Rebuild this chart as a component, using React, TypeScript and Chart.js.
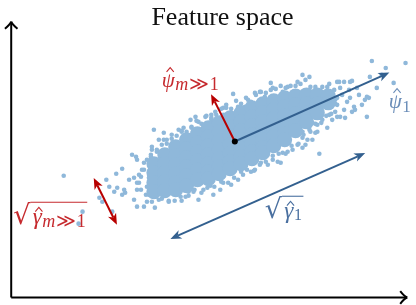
import React, { useEffect, useRef } from "react";
import { Chart, registerables } from "chart.js";

Chart.register(...registerables);

// ---- data (feature-space units) ----
const denseCore: [number, number][] = [
  [144, 134], [144, 125], [144, 115], [144, 106],
  [155, 143], [155, 134], [155, 125], [155, 116], [155, 107],
  [166, 151], [166, 142], [166, 133], [166, 124], [166, 115], [166, 108],
  [177, 158], [177, 149], [177, 140], [177, 131], [177, 122], [177, 112],
  [188, 164], [188, 155], [188, 146], [188, 137], [188, 128], [188, 118],
  [199, 170], [199, 161], [199, 152], [199, 143], [199, 134], [199, 126], [199, 119],
  [210, 175], [210, 166], [210, 157], [210, 148], [210, 139], [210, 131], [210, 124],
  [221, 180], [221, 171], [221, 162], [221, 153], [221, 144], [221, 136], [221, 129],
  [232, 185], [232, 176], [232, 167], [232, 158], [232, 149], [232, 141], [232, 134],
  [243, 190], [243, 181], [243, 172], [243, 163], [243, 154], [243, 146], [243, 139],
  [254, 194], [254, 185], [254, 176], [254, 167], [254, 158], [254, 150], [254, 145],
  [265, 197], [265, 188], [265, 179], [265, 170], [265, 161], [265, 152],
  [276, 200], [276, 191], [276, 182], [276, 173], [276, 164], [276, 158],
  [287, 202], [287, 193], [287, 184], [287, 175], [287, 167],
  [298, 203], [298, 194], [298, 185], [298, 176],
  [309, 203], [309, 194], [309, 185],
  [320, 202], [320, 195],
];

const scatterPoints: [number, number][] = [
  [53, 122], [72, 86], [68, 74], [89, 100], [92, 96], [96, 118], [102, 86],
  [106, 124], [107, 110], [112, 129], [115, 105], [99, 111], [104, 106], [112, 103],
  [114, 108], [122, 143], [126, 141], [124, 120], [119, 118], [127, 138], [134, 135],
  [141, 143], [142, 148], [144, 168], [154, 158], [127, 91], [124, 98], [134, 91],
  [142, 96], [146, 101], [159, 96], [171, 101], [176, 101], [184, 106], [186, 118],
  [129, 115], [131, 121], [139, 120], [137, 111], [144, 110], [151, 106], [154, 103],
  [161, 118], [156, 115], [166, 113], [162, 106], [189, 98], [204, 103], [222, 113],
  [229, 118], [246, 128], [242, 126], [259, 133], [269, 136], [272, 135], [274, 145],
  [279, 146], [294, 150], [311, 144], [294, 160], [297, 153], [304, 158], [309, 166],
  [319, 170], [309, 173], [304, 175], [294, 166], [299, 158], [307, 165], [312, 188],
  [321, 191], [327, 186], [329, 181], [337, 180], [332, 181], [344, 186], [336, 188],
  [346, 191], [339, 196], [342, 200], [357, 198], [361, 200], [359, 181], [347, 188],
  [332, 210], [341, 208], [349, 210], [336, 216], [344, 217], [362, 221], [364, 237],
  [378, 230], [398, 235], [386, 215], [359, 201], [342, 216], [331, 216], [329, 216],
  [326, 208], [317, 206], [319, 211], [307, 208], [297, 206], [294, 223], [301, 221],
  [262, 215], [264, 210], [279, 211], [271, 201], [246, 205], [256, 201], [234, 190],
  [229, 191], [224, 204], [202, 183], [196, 181], [181, 178], [182, 171], [162, 163],
  [142, 151], [149, 158], [169, 168], [189, 176], [214, 190], [239, 198], [251, 206],
  [287, 203], [289, 216], [274, 206], [217, 193], [206, 186], [174, 170], [157, 158],
  [147, 148], [137, 138], [132, 128], [127, 108], [139, 103], [149, 98], [167, 103],
  [179, 106], [194, 108], [201, 112], [214, 115], [211, 108], [234, 123], [251, 133],
  [264, 138], [284, 148], [289, 153], [301, 168], [314, 178], [321, 183], [327, 198],
  [334, 203], [324, 178], [315, 195], [329, 193], [351, 203], [354, 193], [369, 210],
  [374, 223], [186, 181], [154, 165], [172, 166], [202, 178], [214, 183], [236, 191],
  [254, 193],
  // upper fringe of the dense cloud
  [141, 141], [147, 146], [152, 153], [157, 154], [162, 159], [167, 162], [172, 167],
  [177, 166], [182, 170], [187, 177], [192, 174], [197, 182], [202, 180], [207, 183],
  [212, 189], [217, 190], [222, 189], [227, 197], [232, 194], [237, 200], [242, 196],
  [247, 203], [252, 206], [257, 205], [262, 208], [267, 209], [272, 212], [277, 210],
  [282, 212], [287, 212], [292, 214], [297, 218], [302, 211], [307, 211], [314, 211],
  [321, 214],
  // lower fringe of the dense cloud
  [137, 96], [145, 90], [152, 99], [159, 97], [165, 97], [172, 97], [179, 102],
  [185, 108], [192, 105], [198, 110], [205, 111], [212, 116], [219, 115], [225, 120],
  [232, 126], [238, 128], [245, 127], [252, 135], [257, 136], [264, 142], [270, 144],
  [277, 144], [283, 152], [290, 154], [295, 163], [302, 166], [307, 174], [313, 175],
  [318, 182], [323, 184], [324, 203], [327, 194], [322, 198], [329, 200],
  [129, 123], [127, 115], [131, 108], [134, 128], [136, 103],
];

const meanPoint: [number, number] = [225.7, 156.3];
const leadingDirectionTip: [number, number] = [381.7, 225.3];
const minorDirectionTip: [number, number] = [201.7, 203.7];
const leadingSpread: [number, number][] = [[160.7, 58.7], [357.3, 144.7]];
const minorSpread: [number, number][] = [[83.3, 119.7], [106.7, 73]];
const axisOrigin: [number, number] = [0, 0];
const axisEnds: [number, number][] = [[399.7, 0], [0, 276.3]];

// label anchors (left edge, baseline) in feature-space units
const labelPsiM: [number, number] = [152, 211];
const labelPsi1: [number, number] = [381, 190];
const labelGamma1: [number, number] = [256, 80];
const labelGammaM: [number, number] = [2, 74];

const DOT = "#8fb8da";
const BLUE = "#33608f";
const RED = "#b80000";
const RED_TXT = "#c62a2e";
const BLUE_TXT = "#6a8db8";
const BLUE_TXT2 = "#4a70a0";
const MATH = "'Liberation Serif', 'DejaVu Serif', serif";

type Pt = [number, number];
type Piece = { t: string; f: string; dy?: number; dx?: number; hat?: number };

function head(ctx: CanvasRenderingContext2D, tip: Pt, ang: number) {
  const L = 11, W = 4.5, notch = 3;
  const ca = Math.cos(ang), sa = Math.sin(ang);
  const bx = tip[0] - L * ca, by = tip[1] - L * sa;
  ctx.beginPath();
  ctx.moveTo(tip[0], tip[1]);
  ctx.lineTo(bx - W * sa, by + W * ca);
  ctx.lineTo(tip[0] - (L - notch) * ca, tip[1] - (L - notch) * sa);
  ctx.lineTo(bx + W * sa, by - W * ca);
  ctx.closePath();
  ctx.fill();
}

function arrow(ctx: CanvasRenderingContext2D, a: Pt, b: Pt, color: string, startHead: boolean) {
  const ang = Math.atan2(b[1] - a[1], b[0] - a[0]);
  const ca = Math.cos(ang), sa = Math.sin(ang);
  const cut = 8;
  const s: Pt = startHead ? [a[0] + cut * ca, a[1] + cut * sa] : a;
  const e: Pt = [b[0] - cut * ca, b[1] - cut * sa];
  ctx.strokeStyle = color;
  ctx.fillStyle = color;
  ctx.lineWidth = 2;
  ctx.beginPath();
  ctx.moveTo(s[0], s[1]);
  ctx.lineTo(e[0], e[1]);
  ctx.stroke();
  head(ctx, b, ang);
  if (startHead) head(ctx, a, ang + Math.PI);
}

function chevron(ctx: CanvasRenderingContext2D, tip: Pt, ang: number) {
  const back = 7, side = 6.3;
  const ca = Math.cos(ang), sa = Math.sin(ang);
  ctx.beginPath();
  for (const sgn of [1, -1]) {
    const sx = tip[0] - back * ca - sgn * side * sa;
    const sy = tip[1] - back * sa + sgn * side * ca;
    const cx = tip[0] - 0.45 * back * ca - sgn * 0.2 * side * sa;
    const cy = tip[1] - 0.45 * back * sa + sgn * 0.2 * side * ca;
    ctx.moveTo(sx, sy);
    ctx.quadraticCurveTo(cx, cy, tip[0], tip[1]);
  }
  ctx.stroke();
}

function pieces(ctx: CanvasRenderingContext2D, x0: number, base: number, parts: Piece[]) {
  let x = x0;
  for (const p of parts) {
    ctx.font = p.f;
    x += p.dx || 0;
    const w = ctx.measureText(p.t).width;
    ctx.fillText(p.t, x, base + (p.dy || 0));
    if (p.hat) {
      // circumflex accent above the glyph
      const cx = x + w * 0.55 + 1.2;
      const by = base - p.hat;
      ctx.save();
      ctx.strokeStyle = ctx.fillStyle as string;
      ctx.lineWidth = 1.1;
      ctx.beginPath();
      ctx.moveTo(cx - 3.6, by);
      ctx.lineTo(cx, by - 4.2);
      ctx.lineTo(cx + 3.6, by);
      ctx.stroke();
      ctx.restore();
    }
    x += w;
  }
  return x;
}

function radical(ctx: CanvasRenderingContext2D, x0: number, base: number, size: number, parts: Piece[]) {
  ctx.font = `${size}px 'DejaVu Serif', serif`;
  const m = ctx.measureText("\u221A");
  ctx.fillText("\u221A", x0, base);
  const top = base - m.actualBoundingBoxAscent;
  const startX = x0 + m.actualBoundingBoxRight;
  const end = pieces(ctx, startX + 1.5, base, parts);
  ctx.lineWidth = 1.1;
  ctx.beginPath();
  ctx.moveTo(startX - 0.8, top + 0.6);
  ctx.lineTo(end + 1.5, top + 0.6);
  ctx.stroke();
}

const overlay = {
  id: "featureOverlay",
  afterDatasetsDraw(chart: any) {
    const { ctx } = chart;
    const xs = chart.scales.x, ys = chart.scales.y;
    const P = (p: Pt): Pt => [xs.getPixelForValue(p[0]), ys.getPixelForValue(p[1])];
    ctx.save();
    // axes
    const o = P(axisOrigin);
    ctx.strokeStyle = "#000";
    ctx.lineWidth = 2;
    ctx.lineCap = "butt";
    for (const e of axisEnds) {
      const pe = P(e);
      ctx.beginPath();
      ctx.moveTo(o[0], o[1]);
      ctx.lineTo(pe[0], pe[1]);
      ctx.stroke();
      chevron(ctx, pe, Math.atan2(pe[1] - o[1], pe[0] - o[0]));
    }
    // arrows
    const c = P(meanPoint);
    arrow(ctx, c, P(leadingDirectionTip), BLUE, false);
    arrow(ctx, c, P(minorDirectionTip), RED, false);
    arrow(ctx, P(leadingSpread[0]), P(leadingSpread[1]), BLUE, true);
    arrow(ctx, P(minorSpread[0]), P(minorSpread[1]), RED, true);
    ctx.fillStyle = "#000";
    ctx.beginPath();
    ctx.arc(c[0], c[1], 3, 0, Math.PI * 2);
    ctx.fill();

    ctx.textBaseline = "alphabetic";
    ctx.textAlign = "left";
    // psi_{m>>1}
    ctx.fillStyle = RED_TXT;
    let a = P(labelPsiM);
    pieces(ctx, a[0], a[1], [
      { t: "\u03C8", f: `italic 21px ${MATH}`, hat: 15 },
      { t: "m", f: `italic 18px ${MATH}`, dy: 3, dx: 0.5 },
      { t: "\u226B", f: `19px 'DejaVu Serif', serif`, dy: 3, dx: 0.5 },
      { t: "1", f: `18px ${MATH}`, dy: 3, dx: 1 },
    ]);
    // psi_1
    ctx.fillStyle = BLUE_TXT;
    a = P(labelPsi1);
    pieces(ctx, a[0], a[1], [
      { t: "\u03C8", f: `italic 21px ${MATH}`, hat: 15 },
      { t: "1", f: `17px ${MATH}`, dy: 4, dx: 0.5 },
    ]);
    // sqrt gamma_1
    ctx.fillStyle = BLUE_TXT2;
    ctx.strokeStyle = BLUE_TXT2;
    a = P(labelGamma1);
    radical(ctx, a[0], a[1], 27, [
      { t: "\u03B3", f: `italic 23px ${MATH}`, hat: 12 },
      { t: "1", f: `16px ${MATH}`, dy: 2, dx: 0.5 },
    ]);
    // sqrt gamma_{m>>1}
    ctx.fillStyle = RED_TXT;
    ctx.strokeStyle = RED_TXT;
    a = P(labelGammaM);
    radical(ctx, a[0], a[1], 27, [
      { t: "\u03B3", f: `italic 23px ${MATH}`, hat: 12 },
      { t: "m", f: `italic 18px ${MATH}`, dy: 3, dx: 0.5 },
      { t: "\u226B", f: `19px 'DejaVu Serif', serif`, dy: 3, dx: 0.5 },
      { t: "1", f: `18px ${MATH}`, dy: 3, dx: 1 },
    ]);
    ctx.restore();
  },
};

export default function App() {
  const ref = useRef<HTMLCanvasElement | null>(null);
  useEffect(() => {
    if (!ref.current) return;
    const chart = new Chart(ref.current, {
      type: "scatter",
      data: {
        datasets: [
          {
            data: denseCore.map(([x, y]) => ({ x, y })),
            pointRadius: 7.5,
            pointHoverRadius: 7.5,
            backgroundColor: DOT,
            borderWidth: 0,
          },
          {
            data: scatterPoints.map(([x, y]) => ({ x, y })),
            pointRadius: 2.3,
            pointHoverRadius: 2.3,
            backgroundColor: DOT,
            borderWidth: 0,
          },
        ],
      },
      options: {
        responsive: false,
        animation: false,
        devicePixelRatio: 1,
        events: [],
        layout: { padding: { left: 33, right: 4, top: 0, bottom: 7 } },
        scales: {
          x: { type: "linear", min: 22, max: 401, display: false },
          y: { type: "linear", min: 0, max: 267, display: false },
        },
        plugins: {
          legend: { display: false },
          tooltip: { enabled: false },
          title: {
            display: true,
            text: "Feature space",
            color: "#111",
            font: { family: "'Liberation Serif', serif", size: 26, weight: "normal", lineHeight: 1 },
            padding: { top: 5, bottom: 0 },
          },
        },
      },
      plugins: [overlay],
    } as any);
    return () => chart.destroy();
  }, []);
  return (
    <div style={{ position: "fixed", left: 0, top: 0, width: 416, height: 305, background: "#fff" }}>
      <canvas ref={ref} width={416} height={305} style={{ display: "block" }} />
    </div>
  );
}
